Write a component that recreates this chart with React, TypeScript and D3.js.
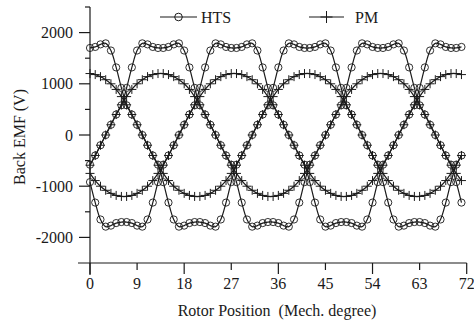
import React, { useEffect, useRef } from 'react';
import * as d3 from 'd3';

// rotor position (mech. degree), one sample per degree
const rotorDeg = [
  0, 1, 2, 3, 4, 5, 6, 7, 8, 9, 10, 11, 12, 13, 14, 15, 16, 17, 18, 19, 20, 21, 22, 23,
  24, 25, 26, 27, 28, 29, 30, 31, 32, 33, 34, 35, 36, 37, 38, 39, 40, 41, 42, 43, 44, 45, 46, 47,
  48, 49, 50, 51, 52, 53, 54, 55, 56, 57, 58, 59, 60, 61, 62, 63, 64, 65, 66, 67, 68, 69, 70, 71,
];

// HTS machine back EMF, three phases (V)
const htsA = [
  -580, -400, -200, 0, 200, 400, 580, 920, 1320, 1650, 1790, 1770, 1720, 1700, 1700, 1720, 1770, 1790, 1650, 1320, 920, 580, 400, 200,
  0, -200, -400, -580, -920, -1320, -1650, -1790, -1770, -1720, -1700, -1700, -1720, -1770, -1790, -1650, -1320, -920, -580, -400, -200, 0, 200, 400,
  580, 920, 1320, 1650, 1790, 1770, 1720, 1700, 1700, 1720, 1770, 1790, 1650, 1320, 920, 580, 400, 200, 0, -200, -400, -580, -920, -1320,
];
const htsB = [
  -920, -1320, -1650, -1790, -1770, -1720, -1700, -1700, -1720, -1770, -1790, -1650, -1320, -920, -580, -400, -200, 0, 200, 400, 580, 920, 1320, 1650,
  1790, 1770, 1720, 1700, 1700, 1720, 1770, 1790, 1650, 1320, 920, 580, 400, 200, 0, -200, -400, -580, -920, -1320, -1650, -1790, -1770, -1720,
  -1700, -1700, -1720, -1770, -1790, -1650, -1320, -920, -580, -400, -200, 0, 200, 400, 580, 920, 1320, 1650, 1790, 1770, 1720, 1700, 1700, 1720,
];
const htsC = [
  1700, 1720, 1770, 1790, 1650, 1320, 920, 580, 400, 200, 0, -200, -400, -580, -920, -1320, -1650, -1790, -1770, -1720, -1700, -1700, -1720, -1770,
  -1790, -1650, -1320, -920, -580, -400, -200, 0, 200, 400, 580, 920, 1320, 1650, 1790, 1770, 1720, 1700, 1700, 1720, 1770, 1790, 1650, 1320,
  920, 580, 400, 200, 0, -200, -400, -580, -920, -1320, -1650, -1790, -1770, -1720, -1700, -1700, -1720, -1770, -1790, -1650, -1320, -920, -580, -400,
];

// PM machine back EMF, three phases (V)
const pmA = [
  -590, -400, -200, 0, 200, 400, 590, 750, 890, 1000, 1080, 1140, 1180, 1200, 1200, 1180, 1140, 1080, 1000, 890, 750, 590, 400, 200,
  0, -200, -400, -590, -750, -890, -1000, -1080, -1140, -1180, -1200, -1200, -1180, -1140, -1080, -1000, -890, -750, -590, -400, -200, 0, 200, 400,
  590, 750, 890, 1000, 1080, 1140, 1180, 1200, 1200, 1180, 1140, 1080, 1000, 890, 750, 590, 400, 200, 0, -200, -400, -590, -750, -890,
];
const pmB = [
  -750, -890, -1000, -1080, -1140, -1180, -1200, -1200, -1180, -1140, -1080, -1000, -890, -750, -590, -400, -200, 0, 200, 400, 590, 750, 890, 1000,
  1080, 1140, 1180, 1200, 1200, 1180, 1140, 1080, 1000, 890, 750, 590, 400, 200, 0, -200, -400, -590, -750, -890, -1000, -1080, -1140, -1180,
  -1200, -1200, -1180, -1140, -1080, -1000, -890, -750, -590, -400, -200, 0, 200, 400, 590, 750, 890, 1000, 1080, 1140, 1180, 1200, 1200, 1180,
];
const pmC = [
  1200, 1180, 1140, 1080, 1000, 890, 750, 590, 400, 200, 0, -200, -400, -590, -750, -890, -1000, -1080, -1140, -1180, -1200, -1200, -1180, -1140,
  -1080, -1000, -890, -750, -590, -400, -200, 0, 200, 400, 590, 750, 890, 1000, 1080, 1140, 1180, 1200, 1200, 1180, 1140, 1080, 1000, 890,
  750, 590, 400, 200, 0, -200, -400, -590, -750, -890, -1000, -1080, -1140, -1180, -1200, -1200, -1180, -1140, -1080, -1000, -890, -750, -590, -400,
];

const xTicks = [0, 9, 18, 27, 36, 45, 54, 63, 72];
const yTicks = [-2000, -1000, 0, 1000, 2000];
const yMinorTicks = [-1500, -500, 500, 1500, 2500];

const width = 474;
const height = 324;
const ink = '#1a1a1a';
const font = 'Liberation Serif, DejaVu Serif, serif';

const App = () => {
  const svgRef = useRef(null);

  useEffect(() => {
    const svg = d3.select(svgRef.current);
    svg.selectAll('*').remove();

    const x = d3.scaleLinear().domain([0, 72]).range([90, 466.7]);
    const y = d3.scaleLinear().domain([-2500, 2500]).range([263, 7]);

    // axes
    const axes = svg.append('g').attr('stroke', ink).attr('stroke-width', 1.2);
    axes.append('line').attr('x1', 78).attr('x2', x(72)).attr('y1', y(-2500)).attr('y2', y(-2500));
    axes.append('line').attr('x1', x(0)).attr('x2', x(0)).attr('y1', y(2500)).attr('y2', y(-2500) + 12);

    xTicks.forEach(t => {
      const len = t % 18 === 0 ? 11 : 7;
      axes.append('line').attr('x1', x(t)).attr('x2', x(t)).attr('y1', y(-2500)).attr('y2', y(-2500) + len);
    });
    yTicks.forEach(t => {
      axes.append('line').attr('x1', x(0) - 11).attr('x2', x(0)).attr('y1', y(t)).attr('y2', y(t));
    });
    yMinorTicks.forEach(t => {
      axes.append('line').attr('x1', x(0) - 5).attr('x2', x(0)).attr('y1', y(t)).attr('y2', y(t));
    });

    const labels = svg.append('g')
      .attr('font-family', font)
      .attr('font-size', 16)
      .attr('fill', ink);

    xTicks.forEach(t => {
      labels.append('text').attr('x', x(t)).attr('y', 289).attr('text-anchor', 'middle').text(t);
    });
    yTicks.forEach(t => {
      labels.append('text').attr('x', 73).attr('y', y(t) + 5.5).attr('text-anchor', 'end').text(t);
    });

    labels.append('text')
      .attr('x', 277).attr('y', 316)
      .attr('text-anchor', 'middle')
      .style('white-space', 'pre')
      .text('Rotor Position  (Mech. degree)');

    labels.append('text')
      .attr('transform', 'translate(25,137) rotate(-90)')
      .attr('text-anchor', 'middle')
      .text('Back EMF (V)');

    // curves
    const line = d3.line()
      .x((d, i) => x(rotorDeg[i]))
      .y(d => y(d))
      .curve(d3.curveCatmullRom);

    const plot = svg.append('g');
    [htsA, htsB, htsC, pmA, pmB, pmC].forEach(s => {
      plot.append('path')
        .attr('d', line(s))
        .attr('fill', 'none')
        .attr('stroke', ink)
        .attr('stroke-width', 1.2);
    });

    // PM markers (+)
    const plus = (g, cx, cy, h) => {
      g.append('path')
        .attr('d', `M${cx - h},${cy}H${cx + h}M${cx},${cy - h}V${cy + h}`)
        .attr('stroke', ink)
        .attr('stroke-width', 1)
        .attr('fill', 'none');
    };
    [pmA, pmB, pmC].forEach(s => {
      s.forEach((v, i) => plus(plot, x(rotorDeg[i]), y(v), 4.5));
    });

    // HTS markers (o)
    [htsA, htsB, htsC].forEach(s => {
      plot.selectAll(null)
        .data(s)
        .enter().append('circle')
        .attr('cx', (d, i) => x(rotorDeg[i]))
        .attr('cy', d => y(d))
        .attr('r', 3.6)
        .attr('fill', 'none')
        .attr('stroke', ink)
        .attr('stroke-width', 0.9);
    });

    // legend
    const legend = svg.append('g');
    legend.append('line').attr('x1', 160).attr('x2', 197).attr('y1', 17).attr('y2', 17)
      .attr('stroke', ink).attr('stroke-width', 1.2);
    legend.append('circle').attr('cx', 178.5).attr('cy', 17).attr('r', 3.8)
      .attr('fill', 'none').attr('stroke', ink).attr('stroke-width', 1);
    legend.append('line').attr('x1', 309).attr('x2', 344).attr('y1', 17).attr('y2', 17)
      .attr('stroke', ink).attr('stroke-width', 1.2);
    plus(legend, 326.5, 17, 6);

    legend.append('text').attr('x', 201).attr('y', 23)
      .attr('font-family', font).attr('font-size', 16).attr('fill', ink).text('HTS');
    legend.append('text').attr('x', 355).attr('y', 23)
      .attr('font-family', font).attr('font-size', 16).attr('fill', ink).text('PM');
  }, []);

  return (
    <svg
      ref={svgRef}
      width={width}
      height={height}
      style={{ position: 'absolute', left: 0, top: 0, background: '#fff' }}
    ></svg>
  );
};

export default App;
